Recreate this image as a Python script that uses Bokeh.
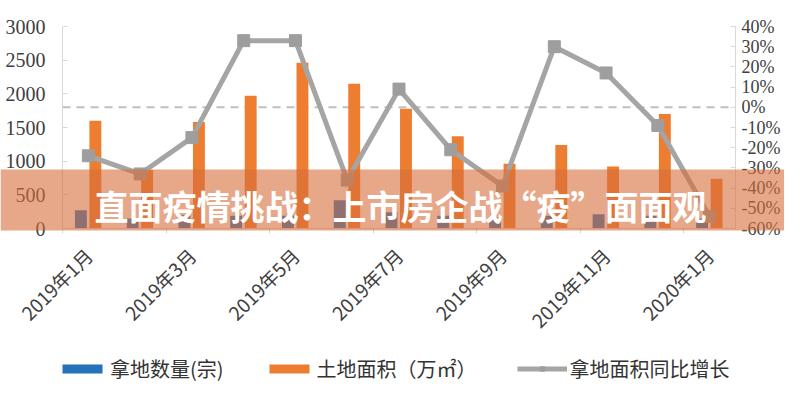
import math
from bokeh.plotting import figure
from bokeh.models import (Range1d, LinearAxis, FixedTicker, SingleIntervalTicker,
                          PrintfTickFormatter, BoxAnnotation, Label, Legend,
                          LegendItem, ColumnDataSource)
from bokeh.transform import dodge
from bokeh.embed import file_html
from bokeh.resources import INLINE

months = ["2019年1月", "2019年2月", "2019年3月", "2019年4月", "2019年5月", "2019年6月",
          "2019年7月", "2019年8月", "2019年9月", "2019年10月", "2019年11月", "2019年12月",
          "2020年1月"]
land_count = [270, 150, 200, 190, 190, 420, 240, 190, 165, 190, 210, 190, 150]
land_area = [1600, 870, 1580, 1970, 2460, 2150, 1780, 1370, 960, 1240, 920, 1700, 740]
area_yoy = [-24, -33, -15, 33, 33, -36, 9, -21, -39, 30, 17, -9, -54]
legend_labels = ["拿地数量(宗)", "土地面积（万㎡）", "拿地面积同比增长"]
banner_text = "直面疫情挑战：上市房企战“疫”面面观"
left_lim = (0, 3000)
right_lim = (-60, 40)
x_lim = (-0.5, len(months) - 0.5)

BLUE = "#2473B9"
ORANGE = "#ED7D31"
GREY = "#A5A5A5"
MARK = "#9E9E9E"
AXIS = "#D9D9D9"
TXT = "#404040"
SERIF = "Liberation Serif"
CJK = "Noto Sans CJK SC"

# layout in pixels: the frame fills the whole figure; the plotting band is
# x from PL to PR and y from TOP to ZERO, the axes are pinned to its edges
W, H = 784, 384
PL, PR = 62, 735
TOP, ZERO = 26, 228


def x_ext(lo, hi):
    s = (hi - lo) / (PR - PL)
    return Range1d(lo - PL * s, hi + (W - PR) * s)


def y_ext(lo, hi):
    s = (hi - lo) / (ZERO - TOP)
    return Range1d(lo - (H - ZERO) * s, hi + TOP * s)


idx = list(range(len(months)))
src = ColumnDataSource(dict(x=idx, month=months, count=land_count, area=land_area, yoy=area_yoy))

p = figure(width=W, height=H, output_backend="svg", toolbar_location=None, title=None,
           x_range=x_ext(*x_lim), y_range=y_ext(*left_lim),
           min_border_left=0, min_border_right=0, min_border_top=0, min_border_bottom=0)
p.extra_y_ranges = {"pct": y_ext(*right_lim)}
p.outline_line_color = None
p.grid.visible = False
p.background_fill_color = "white"
p.border_fill_color = "white"

# x axis, pinned at value 0
xa = p.xaxis[0]
xa.fixed_location = 0
xa.bounds = x_lim
major = idx[::2]
xa.ticker = FixedTicker(ticks=major, minor_ticks=[t - 0.5 for t in major])
xa.major_label_overrides = {i: months[i] for i in major}
xa.major_label_orientation = math.pi / 4
xa.major_tick_in = 0
xa.major_tick_out = 0
xa.minor_tick_in = 0
xa.minor_tick_out = 5
xa.minor_tick_line_color = AXIS
xa.axis_line_color = AXIS
xa.major_label_text_font = CJK
xa.major_label_text_font_size = "19px"
xa.major_label_text_color = TXT
xa.major_label_standoff = 18

# left axis
ya = p.yaxis[0]
ya.fixed_location = x_lim[0]
ya.bounds = left_lim
ya.ticker = SingleIntervalTicker(interval=500)
ya.major_tick_in = 5
ya.major_tick_out = 0
ya.minor_tick_in = 0
ya.minor_tick_out = 0
ya.major_tick_line_color = AXIS
ya.axis_line_color = AXIS
ya.major_label_text_font = SERIF
ya.major_label_text_font_size = "20px"
ya.major_label_text_color = TXT
ya.major_label_standoff = 17

# right axis
ra = LinearAxis(y_range_name="pct", ticker=SingleIntervalTicker(interval=10),
                formatter=PrintfTickFormatter(format="%d%%"), bounds=right_lim,
                fixed_location=x_lim[1])
ra.major_tick_in = 5
ra.major_tick_out = 0
ra.minor_tick_in = 0
ra.minor_tick_out = 0
ra.major_tick_line_color = AXIS
ra.axis_line_color = AXIS
ra.major_label_text_font = SERIF
ra.major_label_text_font_size = "18px"
ra.major_label_text_color = TXT
ra.major_label_standoff = 6
p.add_layout(ra, "right")

# dashed zero line of the growth axis across the category span
p.line(x=list(x_lim), y=[0, 0], y_range_name="pct", line_color="#BFBFBF", line_width=2,
       line_dash="8 6", level="underlay")

rb = p.vbar(x=dodge("x", -0.145, range=p.x_range), top="count", width=0.23, source=src,
            fill_color=BLUE, line_color=None)
ro = p.vbar(x=dodge("x", 0.135, range=p.x_range), top="area", width=0.23, source=src,
            fill_color=ORANGE, line_color=None)
rl = p.line(x="x", y="yoy", source=src, y_range_name="pct", line_color=GREY, line_width=5)
rm = p.scatter(x="x", y="yoy", source=src, y_range_name="pct", marker="square", size=12,
               fill_color=MARK, line_color=MARK)

legend = Legend(items=[LegendItem(label=legend_labels[0], renderers=[rb]),
                       LegendItem(label=legend_labels[1], renderers=[ro]),
                       LegendItem(label=legend_labels[2], renderers=[rl, rm])],
                orientation="horizontal", location=(57, 1),
                glyph_width=50, glyph_height=11, label_standoff=3, spacing=40,
                padding=0, margin=0, border_line_color=None, background_fill_alpha=0,
                label_text_font=CJK, label_text_font_size="20px", label_text_color="#333333")
p.add_layout(legend)

# banner overlay
p.add_layout(BoxAnnotation(left=0, right=W, top=169, bottom=230,
                           left_units="canvas", right_units="canvas",
                           top_units="canvas", bottom_units="canvas",
                           fill_color="#D76E3C", fill_alpha=0.6, line_alpha=0,
                           level="overlay"))
p.add_layout(Label(x=400, y=205, x_units="canvas", y_units="canvas", text=banner_text,
                   text_align="center", text_baseline="middle", text_font=CJK,
                   text_font_style="bold", text_font_size="34px", text_color="white",
                   level="overlay"))

open("out.html", "w").write(file_html(p, INLINE))
